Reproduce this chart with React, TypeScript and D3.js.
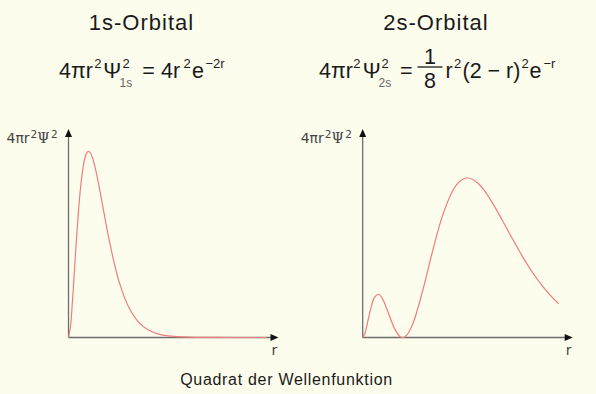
import React from "react";
import * as d3 from "d3";

// Radial probability density of the hydrogen 1s orbital, sampled along r
const r1s = [0, 0.1, 0.2, 0.3, 0.4, 0.5, 0.6, 0.7, 0.8, 0.9, 1.0, 1.1, 1.2, 1.4, 1.6, 1.8, 2.0, 2.3, 2.6, 3.0, 3.5, 4.0, 4.5, 5.0, 6.0, 7.0, 8.0, 9.9];
const density1s = [0, 0.0327, 0.1073, 0.1976, 0.2876, 0.3679, 0.4337, 0.4833, 0.5169, 0.5356, 0.5413, 0.5363, 0.5225, 0.4766, 0.4174, 0.354, 0.2931, 0.2127, 0.1492, 0.0892, 0.0447, 0.0215, 0.01, 0.0045, 0.0009, 0.0002, 0, 0];

// Radial probability density of the 2s orbital (node at r = 2)
const r2s = [0, 0.1, 0.2, 0.3, 0.4, 0.6, 0.8, 1.0, 1.2, 1.4, 1.6, 1.8, 1.9, 2.0, 2.1, 2.2, 2.5, 3.0, 3.5, 4.0, 4.5, 4.75, 5.0, 5.25, 5.5, 5.75, 6.0, 6.5, 7.0, 7.5, 8.0, 8.5, 9.0, 9.5, 9.8];
const density2s = [0, 0.0041, 0.0133, 0.0241, 0.0343, 0.0484, 0.0518, 0.046, 0.0347, 0.0218, 0.0103, 0.0027, 0.0007, 0, 0.0007, 0.0027, 0.016, 0.056, 0.104, 0.1465, 0.1758, 0.1845, 0.1895, 0.191, 0.1893, 0.185, 0.1785, 0.1607, 0.1396, 0.1176, 0.0966, 0.0775, 0.0612, 0.0475, 0.0405];

const panelTitles = ["1s-Orbital", "2s-Orbital"];
const caption = "Quadrat der Wellenfunktion";

const W = 596;
const H = 394;
const BG = "#fdfdee";
const CURVE = "#f07c7c";
const AXIS = "#6e6e6e";
const TEXT = "#1a1a1a";
const FONT = "'Liberation Sans', Arial, sans-serif";

const R_MAX = 10.5;
const Y_BASE = 337.5;
const Y_TOP = 129;

interface PanelProps {
  x0: number;
  r: number[];
  density: number[];
  yMax: number;
  yPixelsPerUnit: number;
}

function Panel({ x0, r, density, yMax, yPixelsPerUnit }: PanelProps) {
  const x = d3.scaleLinear().domain([0, 10]).range([x0, x0 + 200]);
  const y = d3.scaleLinear().domain([0, yMax]).range([Y_BASE, Y_BASE - yMax * yPixelsPerUnit]);
  const pts: [number, number][] = r.map((v, i) => [v, density[i]]);
  const line = d3
    .line<[number, number]>()
    .x((d) => x(d[0]))
    .y((d) => Math.min(Y_BASE, y(d[1])))
    .curve(d3.curveCatmullRom.alpha(0.5));
  const xEnd = x(R_MAX);
  const ax = x(0);
  return (
    <g>
      {/* axes */}
      <line x1={ax} y1={Y_BASE} x2={xEnd - 6} y2={Y_BASE} stroke={AXIS} strokeWidth={1.3} />
      <line x1={ax} y1={Y_BASE} x2={ax} y2={Y_TOP + 6} stroke={AXIS} strokeWidth={1.3} />
      <path d={`M${xEnd},${Y_BASE} L${xEnd - 8},${Y_BASE - 3.5} L${xEnd - 8},${Y_BASE + 3.5} Z`} fill="#111" />
      <path d={`M${ax},${Y_TOP} L${ax - 3.5},${Y_TOP + 8} L${ax + 3.5},${Y_TOP + 8} Z`} fill="#111" />
      {/* density curve */}
      <path d={line(pts) ?? ""} fill="none" stroke={CURVE} strokeWidth={1.2} />
      {/* axis labels */}
      <text x={xEnd - 7} y={355} fontFamily="'DejaVu Sans', sans-serif" fontSize={14} fill="#444">
        r
      </text>
      <text x={ax - 62} y={143} fontFamily="'DejaVu Sans', sans-serif" fontSize={14} fill="#444">
        <tspan>4πr</tspan>
        <tspan fontSize={10.5} dx={1} dy={-5.5}>2</tspan>
        <tspan dy={5.5} fontFamily="'DejaVu Serif', serif">Ψ</tspan>
        <tspan fontSize={10.5} dx={1.5} dy={-5.5}>2</tspan>
      </text>
    </g>
  );
}

export default function App() {
  const sup = 13;
  const sub = 12;
  const supY = 68;
  const subY = 87;
  return (
    <svg
      width={W}
      height={H}
      viewBox={`0 0 ${W} ${H}`}
      style={{ position: "absolute", left: 0, top: 0, display: "block" }}
    >
      <rect x={0} y={0} width={W} height={H} fill={BG} />

      {/* panel titles */}
      <text x={141.5} y={30} textAnchor="middle" fontFamily={FONT} fontSize={22} letterSpacing={1} fill={TEXT}>
        {panelTitles[0]}
      </text>
      <text x={436} y={30} textAnchor="middle" fontFamily={FONT} fontSize={22} letterSpacing={1} fill={TEXT}>
        {panelTitles[1]}
      </text>

      {/* 1s formula */}
      <g fontFamily={FONT} fontSize={21.5} fill={TEXT}>
        <text x={59} y={78}>4πr</text>
        <text x={94.3} y={supY} fontSize={sup}>2</text>
        <text x={103.3} y={78}>Ψ</text>
        <text x={122.5} y={supY} fontSize={sup}>2</text>
        <text x={119.5} y={subY} fontSize={sub} fill="#666">1s</text>
        <text x={142.3} y={78}>=</text>
        <text x={161} y={78}>4r</text>
        <text x={183.5} y={supY} fontSize={sup}>2</text>
        <text x={192} y={78}>e</text>
        <text x={205.5} y={supY} fontSize={sup}>−2r</text>
      </g>

      {/* 2s formula */}
      <g fontFamily={FONT} fontSize={21.5} fill={TEXT}>
        <text x={319} y={78}>4πr</text>
        <text x={353.3} y={supY} fontSize={sup}>2</text>
        <text x={362.7} y={78}>Ψ</text>
        <text x={381.5} y={supY} fontSize={sup}>2</text>
        <text x={378.5} y={subY} fontSize={sub} fill="#666">2s</text>
        <text x={400} y={78}>=</text>
        <text x={430} y={64} textAnchor="middle">1</text>
        <line x1={417.5} y1={67} x2={442.5} y2={67} stroke={TEXT} strokeWidth={1.3} />
        <text x={430} y={88} textAnchor="middle">8</text>
        <text x={445.5} y={78}>r</text>
        <text x={454} y={supY} fontSize={sup}>2</text>
        <text x={462.5} y={78}>(2 − r)</text>
        <text x={521.5} y={supY} fontSize={sup}>2</text>
        <text x={529.5} y={78}>e</text>
        <text x={543.5} y={supY} fontSize={sup}>−r</text>
      </g>

      <Panel x0={68.5} r={r1s} density={density1s} yMax={0.6} yPixelsPerUnit={344} />
      <Panel x0={362.7} r={r2s} density={density2s} yMax={0.25} yPixelsPerUnit={835} />

      <text x={286.5} y={385} textAnchor="middle" fontFamily={FONT} fontSize={16} letterSpacing={0.7} fill={TEXT}>
        {caption}
      </text>
    </svg>
  );
}
